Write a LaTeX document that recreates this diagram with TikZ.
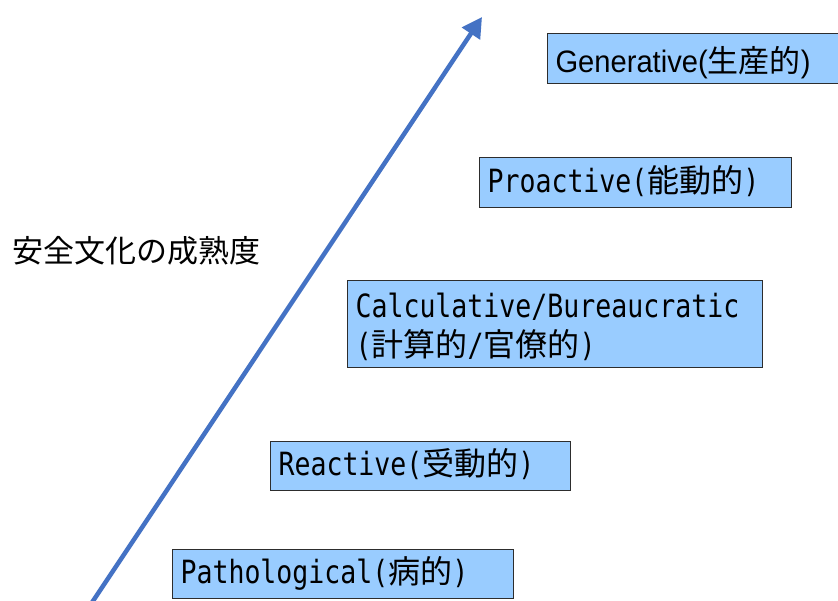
\documentclass[tikz,border=0pt]{standalone}
\usepackage{fontspec}
\usetikzlibrary{arrows.meta}
\setmainfont{Liberation Sans}
\newfontfamily\cjk{Noto Sans CJK JP}
\newfontfamily\gothmono{DejaVu Sans Mono}[FakeStretch=0.83]
\newfontfamily\gothprop{Liberation Sans}[FakeStretch=0.94]
\newcommand\jp[1]{{\cjk #1}}
\definecolor{stagefill}{RGB}{153,204,255}
\definecolor{stageline}{RGB}{45,45,45}
\definecolor{arrowblue}{RGB}{68,114,196}

\begin{document}
\begin{tikzpicture}[x=1pt,y=-1pt,
  stage/.style={draw=stageline, line width=1.1pt, fill=stagefill,
    anchor=north west, inner xsep=8pt, inner ysep=0pt, align=left,
    text height=30pt, text depth=11pt,
    font=\gothmono\fontsize{32}{39}\selectfont},
  growth/.style={draw=arrowblue, line width=4.5pt,
    -{Triangle[length=20pt,width=21pt]}}]

  % page area
  \fill[white] (0,0) rectangle (838,601);
  \useasboundingbox (0,0) rectangle (838,601);

  % maturity axis
  \coordinate (axisfoot) at (89.7,606);
  \coordinate (axistip) at (482,17);
  \draw[growth] (axisfoot) -- (axistip);

  \node[font=\cjk\fontsize{31}{31}\selectfont, anchor=west, inner sep=0pt]
    (maturity) at (12,251) {安全文化の成熟度};

  % culture stages, lowest to highest
  \node[stage, text width=325pt, minimum height=49pt] (pathological)
    at (172,549) {Pathological(\jp{病的})};
  \node[stage, text width=284pt, minimum height=49pt] (reactive)
    at (270,441) {Reactive(\jp{受動的})};
  \node[stage, text width=399pt, minimum height=87pt,
        text height=30pt, text depth=43pt] (calculative)
    at (347,280) {Calculative/Bureaucratic\\(\jp{計算的}/\jp{官僚的})};
  \node[stage, text width=296pt, minimum height=50pt] (proactive)
    at (479,157) {Proactive(\jp{能動的})};
  \node[stage, text width=277pt, minimum height=50pt,
        text height=36pt, text depth=8pt,
        font=\gothprop\fontsize{31}{37}\selectfont] (generative)
    at (547,33) {Generative(\jp{生産的})};
\end{tikzpicture}
\end{document}
